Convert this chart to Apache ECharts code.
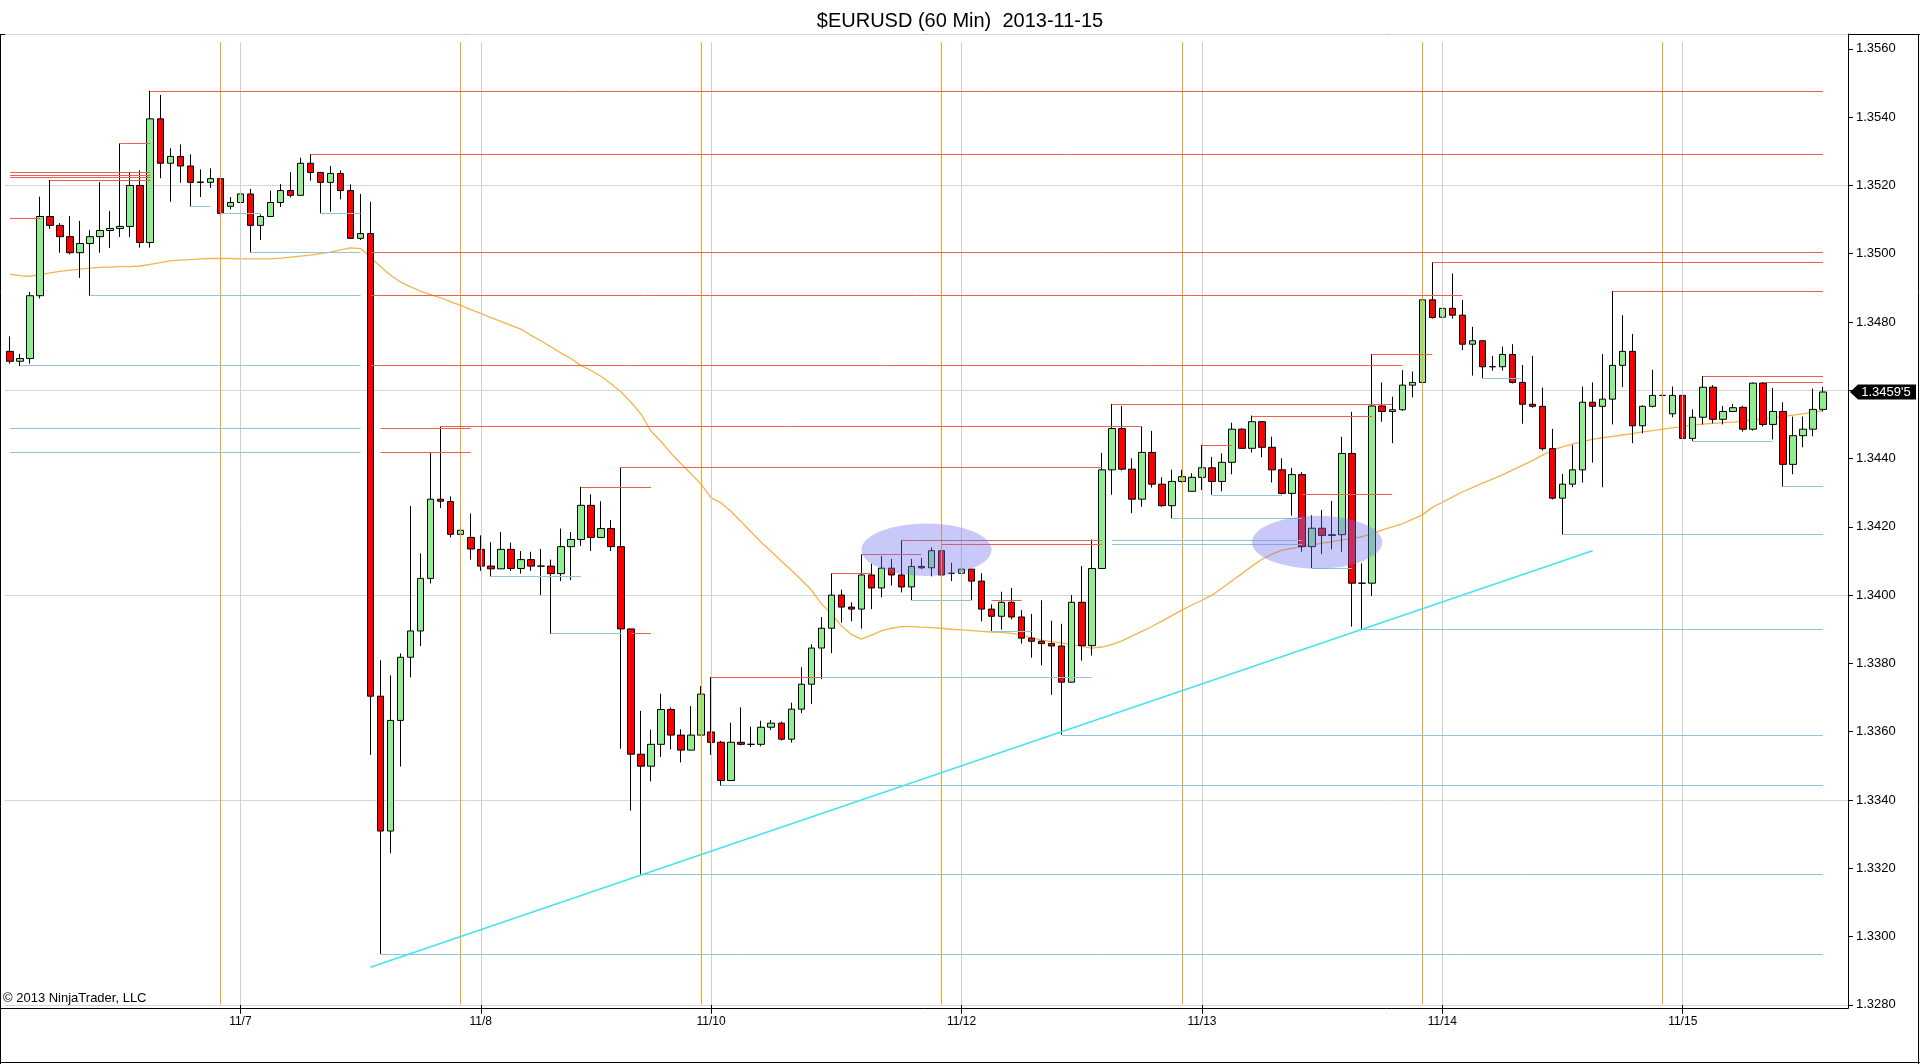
<!DOCTYPE html>
<html>
<head>
<meta charset="utf-8">
<script src="https://cdn.jsdelivr.net/npm/echarts@6/dist/echarts.min.js"></script>
<style>
html,body{margin:0;padding:0;background:#fff;}
#chart{width:1920px;height:1064px;}
</style>
</head>
<body>
<div id="chart"></div>
<script>
// ---------------- DATA ----------------
const opens = [
1.34714,1.34685,1.34693,1.34877,1.35109,1.35083,1.35050,1.35003,1.35030,1.35050,
1.35068,1.35074,1.35080,1.35200,1.35033,1.35395,1.35265,1.35285,1.35257,1.35209,
1.35209,1.35220,1.35139,1.35150,1.35175,1.35083,1.35109,1.35150,1.35185,1.35171,
1.35265,1.35238,1.35209,1.35235,1.35185,1.35045,1.35059,1.33704,1.33309,1.33633,
1.33818,1.33895,1.34049,1.34281,1.34274,1.34178,1.34169,1.34134,1.34085,1.34077,
1.34134,1.34078,1.34104,1.34085,1.34085,1.34063,1.34142,1.34163,1.34263,1.34169,
1.34195,1.34142,1.33901,1.33534,1.33499,1.33563,1.33665,1.33590,1.33546,1.33590,
1.33599,1.33569,1.33457,1.33569,1.33563,1.33563,1.33613,1.33625,1.33578,1.33666,
1.33739,1.33845,1.33903,1.34000,1.33965,1.33959,1.34059,1.34021,1.34079,1.34059,
1.34024,1.34084,1.34080,1.34130,1.34064,1.34064,1.34076,1.34041,1.33959,1.33938,
1.33979,1.33936,1.33874,1.33865,1.33858,1.33851,1.33745,1.33979,1.33852,1.34078,
1.34367,1.34488,1.34369,1.34281,1.34418,1.34325,1.34262,1.34333,1.34304,1.34345,
1.34373,1.34333,1.34389,1.34486,1.34430,1.34508,1.34433,1.34367,1.34298,1.34353,
1.34142,1.34196,1.34175,1.34177,1.34415,1.34035,1.34035,1.34554,1.34538,1.34543,
1.34615,1.34623,1.34865,1.34814,1.34840,1.34820,1.34735,1.34745,1.34669,1.34669,
1.34705,1.34623,1.34559,1.34553,1.34429,1.34284,1.34325,1.34367,1.34565,1.34553,
1.34574,1.34673,1.34714,1.34496,1.34553,1.34585,1.34531,1.34585,1.34459,1.34521,
1.34609,1.34515,1.34538,1.34550,1.34486,1.34621,1.34500,1.34538,1.34383,1.34467,
1.34486,1.34544
];
const closes = [
1.34685,1.34693,1.34877,1.35109,1.35083,1.35050,1.35003,1.35030,1.35050,1.35068,
1.35074,1.35080,1.35200,1.35033,1.35395,1.35265,1.35285,1.35257,1.35209,1.35210,
1.35220,1.35118,1.35150,1.35175,1.35083,1.35109,1.35150,1.35185,1.35171,1.35265,
1.35238,1.35209,1.35235,1.35185,1.35045,1.35059,1.33704,1.33309,1.33633,1.33818,
1.33895,1.34049,1.34281,1.34275,1.34178,1.34190,1.34135,1.34085,1.34077,1.34134,
1.34078,1.34104,1.34085,1.34085,1.34063,1.34142,1.34163,1.34263,1.34169,1.34195,
1.34142,1.33901,1.33534,1.33499,1.33563,1.33665,1.33590,1.33546,1.33590,1.33710,
1.33569,1.33457,1.33569,1.33563,1.33563,1.33613,1.33625,1.33578,1.33666,1.33739,
1.33845,1.33903,1.34000,1.33965,1.33959,1.34059,1.34021,1.34079,1.34059,1.34024,
1.34084,1.34080,1.34130,1.34059,1.34064,1.34076,1.34041,1.33959,1.33938,1.33979,
1.33936,1.33874,1.33865,1.33858,1.33851,1.33745,1.33979,1.33852,1.34078,1.34367,
1.34488,1.34369,1.34281,1.34418,1.34325,1.34262,1.34333,1.34347,1.34345,1.34373,
1.34333,1.34389,1.34486,1.34430,1.34508,1.34433,1.34367,1.34298,1.34353,1.34142,
1.34196,1.34175,1.34177,1.34415,1.34035,1.34035,1.34554,1.34538,1.34543,1.34615,
1.34623,1.34865,1.34813,1.34840,1.34820,1.34735,1.34745,1.34669,1.34669,1.34705,
1.34623,1.34559,1.34553,1.34429,1.34284,1.34325,1.34367,1.34565,1.34553,1.34574,
1.34673,1.34714,1.34496,1.34553,1.34585,1.34585,1.34585,1.34459,1.34521,1.34609,
1.34515,1.34538,1.34549,1.34486,1.34621,1.34500,1.34538,1.34383,1.34467,1.34486,
1.34544,1.34595
];
const lows = [
1.34678,1.34671,1.34678,1.34869,1.35073,1.35003,1.34998,1.34929,1.34877,1.35003,
1.35017,1.35049,1.35049,1.35018,1.35018,1.35221,1.35152,1.35208,1.35138,1.35166,
1.35193,1.35118,1.35130,1.35128,1.35003,1.35040,1.35109,1.35137,1.35165,1.35171,
1.35214,1.35118,1.35123,1.35159,1.35045,1.35040,1.33532,1.32949,1.33244,1.33498,
1.33759,1.33851,1.34034,1.34255,1.34169,1.34134,1.34104,1.34071,1.34055,1.34077,
1.34071,1.34063,1.34071,1.34000,1.33887,1.34041,1.34044,1.34144,1.34129,1.34169,
1.34129,1.33550,1.33369,1.33182,1.33454,1.33526,1.33548,1.33510,1.33546,1.33590,
1.33532,1.33442,1.33457,1.33560,1.33555,1.33557,1.33605,1.33574,1.33568,1.33654,
1.33681,1.33754,1.33830,1.33919,1.33923,1.33902,1.33959,1.33994,1.34028,1.34008,
1.33985,1.34076,1.34055,1.34035,1.34041,1.34035,1.33986,1.33923,1.33895,1.33899,
1.33929,1.33858,1.33817,1.33794,1.33708,1.33591,1.33745,1.33808,1.33823,1.34078,
1.34294,1.34365,1.34240,1.34259,1.34315,1.34259,1.34225,1.34330,1.34304,1.34308,
1.34294,1.34304,1.34354,1.34430,1.34418,1.34404,1.34330,1.34295,1.34233,1.34127,
1.34079,1.34120,1.34134,1.34127,1.33908,1.33900,1.33998,1.34508,1.34445,1.34540,
1.34579,1.34562,1.34810,1.34788,1.34810,1.34718,1.34643,1.34635,1.34657,1.34658,
1.34620,1.34502,1.34549,1.34423,1.34280,1.34177,1.34316,1.34330,1.34388,1.34316,
1.34500,1.34609,1.34445,1.34474,1.34550,1.34556,1.34521,1.34455,1.34451,1.34500,
1.34503,1.34500,1.34536,1.34479,1.34482,1.34494,1.34456,1.34318,1.34354,1.34433,
1.34465,1.34538
];
const highs = [
1.34758,1.34707,1.34888,1.35167,1.35216,1.35090,1.35110,1.35096,1.35069,1.35210,
1.35125,1.35323,1.35238,1.35244,1.35477,1.35465,1.35309,1.35320,1.35291,1.35247,
1.35250,1.35223,1.35166,1.35182,1.35190,1.35115,1.35185,1.35204,1.35239,1.35281,
1.35292,1.35240,1.35257,1.35244,1.35203,1.35175,1.35152,1.33809,1.33765,1.33829,
1.34261,1.34122,1.34417,1.34494,1.34289,1.34214,1.34239,1.34175,1.34155,1.34185,
1.34154,1.34129,1.34127,1.34135,1.34104,1.34195,1.34185,1.34317,1.34295,1.34275,
1.34220,1.34374,1.33901,1.33661,1.33606,1.33711,1.33671,1.33607,1.33675,1.33734,
1.33760,1.33573,1.33626,1.33671,1.33615,1.33632,1.33634,1.33630,1.33685,1.33789,
1.33856,1.33936,1.34064,1.34016,1.33979,1.34119,1.34092,1.34115,1.34106,1.34162,
1.34106,1.34109,1.34140,1.34149,1.34095,1.34143,1.34076,1.34064,1.33973,1.34010,
1.34021,1.33956,1.33945,1.33985,1.33925,1.33916,1.34000,1.34085,1.34163,1.34417,
1.34560,1.34554,1.34401,1.34495,1.34481,1.34345,1.34367,1.34367,1.34357,1.34440,
1.34405,1.34415,1.34505,1.34489,1.34526,1.34510,1.34464,1.34401,1.34373,1.34360,
1.34234,1.34249,1.34276,1.34464,1.34537,1.34093,1.34706,1.34623,1.34581,1.34659,
1.34655,1.34951,1.34976,1.34936,1.34942,1.34865,1.34786,1.34745,1.34701,1.34728,
1.34735,1.34674,1.34701,1.34608,1.34487,1.34355,1.34440,1.34611,1.34623,1.34706,
1.34891,1.34820,1.34765,1.34556,1.34660,1.34658,1.34611,1.34589,1.34544,1.34642,
1.34615,1.34554,1.34560,1.34555,1.34623,1.34624,1.34607,1.34565,1.34523,1.34523,
1.34605,1.34610
];
const maValues = [
1.34940,1.34936,1.34934,1.34939,1.34944,1.34948,1.34952,1.34955,1.34958,1.34960,
1.34961,1.34962,1.34962,1.34964,1.34969,1.34974,1.34979,1.34981,1.34983,1.34985,
1.34986,1.34986,1.34986,1.34985,1.34985,1.34985,1.34985,1.34987,1.34990,1.34993,
1.34996,1.35000,1.35005,1.35011,1.35017,1.35015,1.34990,1.34962,1.34937,1.34917,
1.34903,1.34890,1.34880,1.34871,1.34859,1.34849,1.34836,1.34825,1.34813,1.34802,
1.34790,1.34779,1.34761,1.34745,1.34727,1.34709,1.34693,1.34673,1.34658,1.34641,
1.34619,1.34595,1.34565,1.34530,1.34480,1.34450,1.34415,1.34385,1.34355,1.34325,
1.34285,1.34270,1.34245,1.34215,1.34185,1.34155,1.34128,1.34100,1.34073,1.34045,
1.34015,1.33975,1.33945,1.33910,1.33885,1.33871,1.33883,1.33895,1.33903,1.33908,
1.33908,1.33906,1.33905,1.33903,1.33900,1.33898,1.33896,1.33894,1.33892,1.33891,
1.33888,1.33884,1.33875,1.33868,1.33864,1.33860,1.33855,1.33850,1.33845,1.33848,
1.33855,1.33866,1.33880,1.33894,1.33908,1.33924,1.33940,1.33956,1.33971,1.33985,
1.34000,1.34020,1.34042,1.34063,1.34085,1.34105,1.34120,1.34132,1.34137,1.34142,
1.34147,1.34152,1.34157,1.34162,1.34166,1.34171,1.34180,1.34191,1.34200,1.34209,
1.34222,1.34235,1.34257,1.34272,1.34287,1.34302,1.34315,1.34328,1.34340,1.34352,
1.34366,1.34380,1.34394,1.34410,1.34425,1.34434,1.34442,1.34450,1.34456,1.34461,
1.34465,1.34469,1.34473,1.34478,1.34482,1.34486,1.34490,1.34494,1.34498,1.34501,
1.34503,1.34505,1.34507,1.34510,1.34513,1.34516,1.34519,1.34523,1.34527,1.34531,
1.34536,1.34540
];
// resistance lines (red): [startBar, endBar, price]
const redLevels = [
[14,181,1.35477],[30,181,1.35292],[0,14,1.35238],[0,14,1.35231],[0,14,1.35224],
[4,14,1.35215],[11,14,1.35323],[0,3,1.35103],[36,181,1.35003],[142,181,1.34976],
[160,181,1.34891],[36,145,1.34877],[36,139,1.34672],[136,142,1.34706],[169,181,1.34642],
[175,181,1.34623],[110,138,1.34559],[124,136,1.34524],[43,113,1.34494],[37,46,1.34489],
[37,46,1.34418],[119,122,1.34439],[61,109,1.34374],[57,64,1.34317],[129,138,1.34295],
[89,109,1.34162],[93,109,1.34149],[85,91,1.34120],[82,86,1.34064],[98,101,1.33985],
[70,81,1.33760],[62,64,1.33887]
];
// support lines (blue): [startBar, endBar, price]
const blueLevels = [
[1,35,1.34672],[8,35,1.34877],[24,35,1.35003],[18,20,1.35138],[21,25,1.35118],
[31,35,1.35118],[0,35,1.34489],[0,35,1.34418],[37,181,1.32949],[63,181,1.33182],
[71,181,1.33443],[105,181,1.33591],[135,181,1.33900],[155,181,1.34177],[177,181,1.34318],
[168,176,1.34451],[147,151,1.34635],[48,57,1.34055],[54,61,1.33887],[81,108,1.33760],
[90,96,1.33985],[98,102,1.33895],[120,127,1.34294],[116,129,1.34225],[110,129,1.34162],
[110,129,1.34149],[130,134,1.34079]
];
const trendLine = [[36,1.3291],[158,1.3413]];
const ellipses = [[85,98,1.34133,0.00154],[124,137,1.34155,0.00155]]; // [fromBar, toBar, centerPrice, priceHeight]
const sessionBars = [21,45,69,93,117,141,165];
const dateBars = [23,47,70,95,119,143,167];
const dateLabels = ['11/7','11/8','11/10','11/12','11/13','11/14','11/15'];
const yMin = 1.3280, yMax = 1.356436, yStep = 0.0020, gridStep = 0.0060;
const vLineTop = 1.3562, vLineBottom = 1.32801;
const lastPrice = 1.34595;
const barCount = 184;

// --------------- BUILD -----------------
const FONT = 'Liberation Sans, Arial, sans-serif';
const categories = [];
for (let i = 0; i < barCount; i++) categories.push(String(i));
const candleData = opens.map((o, i) => [o, closes[i], lows[i], highs[i]]);

const ml = [];
dateBars.forEach(i => {
  const ls = {color: '#cfcfcf', width: 1, type: 'solid'};
  ml.push([{coord: [i, vLineTop], lineStyle: ls}, {coord: [i, vLineBottom], lineStyle: ls}]);
});
sessionBars.forEach(i => {
  const ls = {color: '#ffa31a', width: 1, type: 'solid'};
  ml.push([{coord: [i, vLineTop], lineStyle: ls}, {coord: [i, vLineBottom], lineStyle: ls}]);
});
blueLevels.forEach(l => {
  const ls = {color: '#93c4d6', width: 1, type: 'solid'};
  ml.push([{coord: [l[0], l[2]], lineStyle: ls}, {coord: [l[1], l[2]], lineStyle: ls}]);
});
redLevels.forEach(l => {
  const ls = {color: '#e8624e', width: 1, type: 'solid'};
  ml.push([{coord: [l[0], l[2]], lineStyle: ls}, {coord: [l[1], l[2]], lineStyle: ls}]);
});
{
  const ls = {color: '#44e3ef', width: 1.6, type: 'solid'};
  ml.push([{coord: trendLine[0], lineStyle: ls}, {coord: trendLine[1], lineStyle: ls}]);
}

function tagText(p) {
  const s = p.toFixed(5);
  return s.slice(0, 6) + "'" + s.slice(6);
}

const chart = echarts.init(document.getElementById('chart'), null, {renderer: 'canvas'});
chart.setOption({
  backgroundColor: '#ffffff',
  animation: false,
  textStyle: {fontFamily: FONT},
  title: {
    text: '$EURUSD (60 Min)  2013-11-15',
    left: 'center', top: 6,
    textStyle: {fontSize: 20, fontWeight: 'normal', color: '#000', fontFamily: FONT}
  },
  grid: {left: 5, right: 72, top: 34, bottom: 59.2, show: false},
  xAxis: {
    type: 'category',
    data: categories,
    boundaryGap: true,
    axisLine: {show: false},
    axisTick: {show: true, alignWithLabel: true, length: 9, interval: (i) => dateBars.indexOf(i) >= 0, lineStyle: {color: '#000'}},
    axisLabel: {
      interval: (i) => dateBars.indexOf(i) >= 0,
      formatter: (v, i) => { const k = dateBars.indexOf(Number(v)); return k >= 0 ? dateLabels[k] : ''; },
      fontSize: 12, color: '#000', margin: 11, fontFamily: FONT
    },
    splitLine: {show: false}
  },
  yAxis: [
    {
      type: 'value', position: 'right',
      min: yMin, max: yMax, interval: yStep,
      axisLine: {show: true, lineStyle: {color: '#000', width: 1}},
      axisTick: {show: true, length: 5, lineStyle: {color: '#000'}},
      axisLabel: {formatter: (v) => v.toFixed(4), fontSize: 13, color: '#000', margin: 8, showMaxLabel: false, fontFamily: FONT},
      splitLine: {show: false}
    },
    {
      type: 'value', position: 'left',
      min: yMin, max: yMax, interval: gridStep,
      axisLine: {show: false}, axisTick: {show: false}, axisLabel: {show: false},
      splitLine: {show: true, lineStyle: {color: '#d6d6d6', width: 1}}
    }
  ],
  series: [
    {
      name: 'MA', type: 'line', data: maValues, symbol: 'none', z: 2,
      lineStyle: {color: '#f3b44a', width: 1.3},
      silent: true,
      markLine: {silent: true, symbol: ['none', 'none'], label: {show: false}, animation: false, data: ml}
    },
    {
      name: 'EURUSD', type: 'candlestick', data: candleData, z: 3, barWidth: 7,
      itemStyle: {color: '#90ee90', color0: '#ff0000', borderColor: '#000', borderColor0: '#000', borderColorDoji: '#000', borderWidth: 1}
    },
    {
      name: 'zones', type: 'custom', z: 5, silent: true,
      data: ellipses, encode: {x: 0, y: 2},
      renderItem: function (params, api) {
        const y = api.value(2), h = api.value(3);
        const a = api.coord([api.value(0), y]);
        const b = api.coord([api.value(1), y]);
        const top = api.coord([api.value(0), y + h / 2])[1];
        const bot = api.coord([api.value(0), y - h / 2])[1];
        return {
          type: 'circle', shape: {cx: 0, cy: 0, r: 1},
          x: (a[0] + b[0]) / 2, y: a[1], scaleX: (b[0] - a[0]) / 2, scaleY: Math.abs(bot - top) / 2,
          style: {fill: 'rgba(112,112,240,0.38)'}
        };
      }
    },
    {
      name: 'last', type: 'custom', z: 6, silent: true, clip: false,
      data: [[closes.length - 1, lastPrice]], encode: {x: 0, y: 1},
      renderItem: function (params, api) {
        const pt = api.coord([api.value(0), api.value(1)]);
        const x0 = params.coordSys.x + params.coordSys.width;
        const y = pt[1];
        return {
          type: 'group',
          children: [
            {type: 'polygon', shape: {points: [[x0 + 2, y], [x0 + 10, y - 7.5], [x0 + 68, y - 7.5], [x0 + 68, y + 7.5], [x0 + 10, y + 7.5]]}, style: {fill: '#000'}},
            {type: 'text', x: x0 + 38, y: y, style: {text: tagText(api.value(1)), fill: '#fff', fontSize: 13, fontFamily: FONT, align: 'center', verticalAlign: 'middle'}}
          ]
        };
      }
    }
  ],
  graphic: [
    {type: 'line', silent: true, shape: {x1: 0, y1: 34.5, x2: 1920, y2: 34.5}, style: {stroke: '#000', lineWidth: 1}},
    {type: 'line', silent: true, shape: {x1: 0.5, y1: 34, x2: 0.5, y2: 1064}, style: {stroke: '#000', lineWidth: 1}},
    {type: 'line', silent: true, shape: {x1: 1918.5, y1: 34, x2: 1918.5, y2: 1064}, style: {stroke: '#000', lineWidth: 1}},
    {type: 'line', silent: true, shape: {x1: 0, y1: 1062.5, x2: 1920, y2: 1062.5}, style: {stroke: '#000', lineWidth: 1}},
    {type: 'line', silent: true, shape: {x1: 0, y1: 1008.5, x2: 1848.5, y2: 1008.5}, style: {stroke: '#000', lineWidth: 1}},
    {type: 'line', silent: true, shape: {x1: 1848.5, y1: 34, x2: 1848.5, y2: 1008.5}, style: {stroke: '#000', lineWidth: 1}},
    {type: 'text', silent: true, left: 3, top: 992, style: {text: '\u00A9 2013 NinjaTrader, LLC', fontSize: 13, fontFamily: FONT, fill: '#000'}}
  ]
});
</script>
</body>
</html>
